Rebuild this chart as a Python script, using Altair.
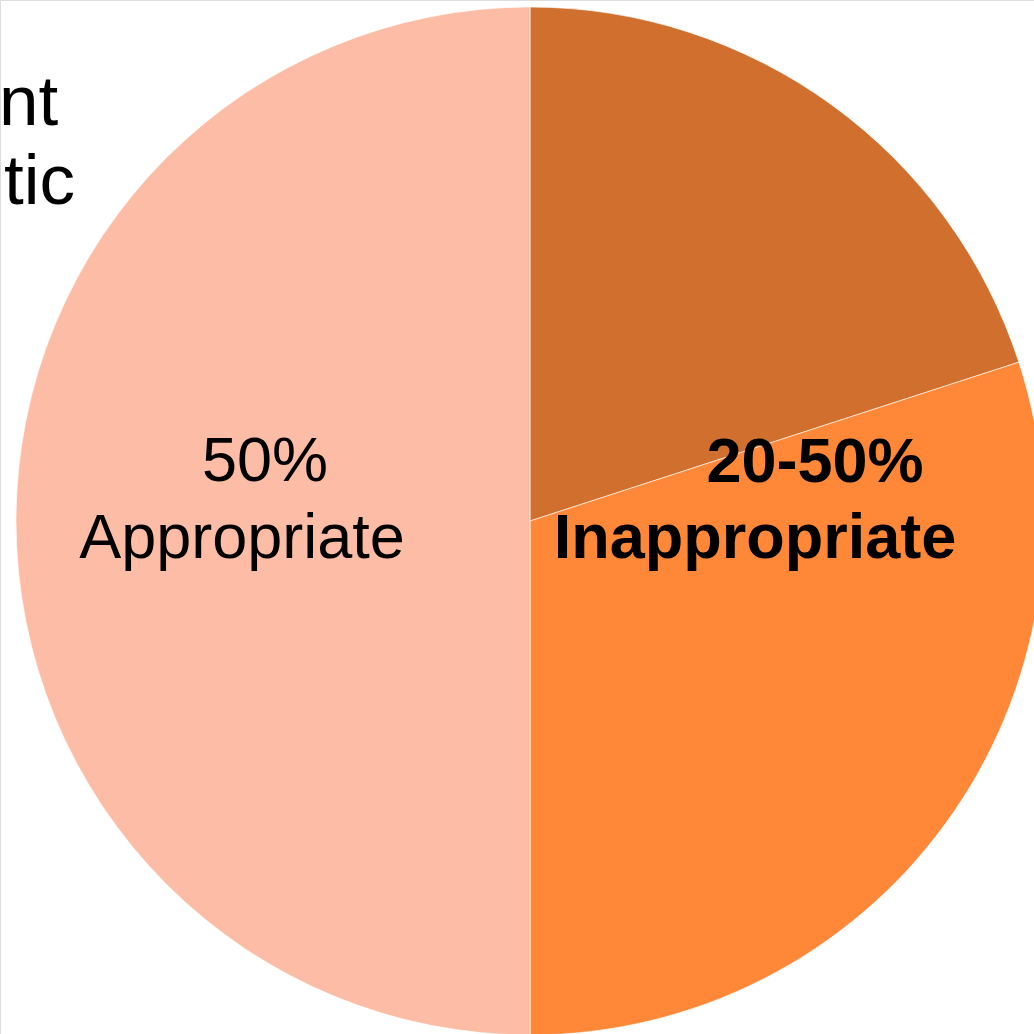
import altair as alt
import pandas as pd

# Slice data, clockwise from 12 o'clock
categories = ["Inappropriate (dark)", "Inappropriate", "Appropriate"]
shares = [20, 30, 50]
colors = ["#D06F2E", "#FF8838", "#FDBCA5"]

# Text lines
appropriate_lines = ["50%", "Appropriate"]
inappropriate_lines = ["20-50%", "Inappropriate"]
corner_lines = ["nt", "tic"]

pie_df = pd.DataFrame({"category": categories, "share": shares, "order": list(range(len(categories)))})

CX, CY, R = 530, 521, 514
FONT = "Liberation Sans"

pie = alt.Chart(pie_df).mark_arc(
    radius=R, stroke="white", strokeWidth=1, strokeOpacity=0.6
).encode(
    theta=alt.Theta("share:Q", stack=True),
    order=alt.Order("order:Q"),
    color=alt.Color("category:N", scale=alt.Scale(domain=categories, range=colors), legend=None),
    x=alt.value(CX),
    y=alt.value(CY),
)


def text_layer(line, x, y, size, bold=False, align="center"):
    return alt.Chart(pd.DataFrame({"t": [line]})).mark_text(
        font=FONT, fontSize=size, fontWeight="bold" if bold else "normal",
        align=align, baseline="alphabetic", color="black"
    ).encode(text="t:N", x=alt.value(x), y=alt.value(y))


layers = [pie]
layers.append(text_layer(appropriate_lines[0], 265, 481, 63))
layers.append(text_layer(appropriate_lines[1], 242, 558, 63))
layers.append(text_layer(inappropriate_lines[0], 815, 482, 63, bold=True))
layers.append(text_layer(inappropriate_lines[1], 755, 558, 63, bold=True))
layers.append(text_layer(corner_lines[0], -1, 125, 71, align="left"))
layers.append(text_layer(corner_lines[1], 4, 204, 71, align="left"))

chart = alt.layer(*layers).properties(
    width=1034, height=1034, padding=0, autosize=alt.AutoSizeParams(type="none")
).configure_view(stroke="transparent", strokeWidth=0).configure(background="white")

chart.save("out.html", embed_options={"renderer": "svg", "actions": False})
